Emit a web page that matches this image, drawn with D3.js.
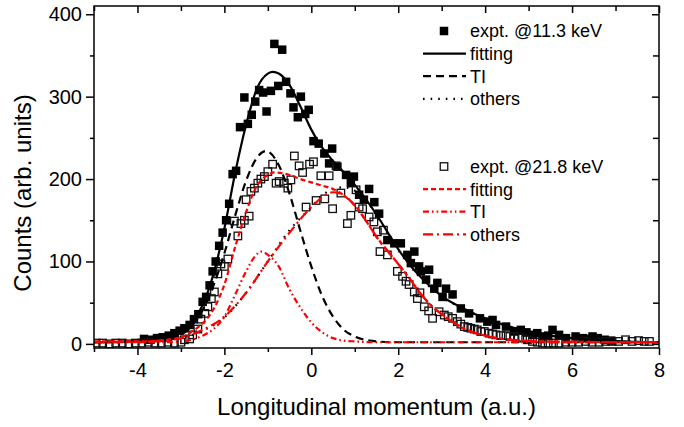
<!DOCTYPE html>
<html>
<head>
<meta charset="utf-8">
<script src="https://cdn.jsdelivr.net/npm/d3@7"></script>
<style>
  body { margin: 0; background: #fff; }
  svg { display: block; font-family: 'Liberation Sans', Arial, sans-serif; }
</style>
</head>
<body>
<div class="container"></div>
<script>
// measured points, 11.3 keV (filled squares)
const expt113 = [
  [-3.85, 6], [-3.7, 5], [-3.55, 7], [-3.42, 8], [-3.28, 10], [-3.15, 13], [-3.03, 16],
  [-2.92, 19], [-2.8, 23], [-2.7, 30], [-2.6, 36], [-2.5, 51], [-2.42, 57], [-2.34, 71],
  [-2.27, 88], [-2.2, 100], [-2.12, 119], [-2.04, 135], [-1.96, 150], [-1.89, 170],
  [-1.81, 206], [-1.73, 210], [-1.64, 263], [-1.54, 299], [-1.46, 267], [-1.37, 278],
  [-1.29, 294], [-1.2, 308], [-1.11, 305], [-1.03, 282], [-0.93, 307], [-0.85, 364],
  [-0.76, 313], [-0.67, 357], [-0.58, 318], [-0.48, 304], [-0.41, 287], [-0.31, 275],
  [-0.24, 300], [-0.14, 279], [-0.06, 284], [0.05, 246], [0.17, 243], [0.3, 231],
  [0.41, 219], [0.48, 237], [0.6, 215], [0.8, 205], [0.91, 195], [0.98, 203], [1.1, 181],
  [1.21, 175], [1.33, 188], [1.45, 172], [1.56, 158], [1.75, 126], [1.91, 122], [2.06, 122],
  [2.21, 108], [2.29, 98], [2.37, 112], [2.48, 94], [2.52, 88], [2.64, 78], [2.71, 90],
  [2.83, 67], [2.9, 74], [3.02, 57], [3.1, 67], [3.25, 60], [3.44, 43], [3.63, 37],
  [3.88, 31], [4.05, 27], [4.17, 29], [4.25, 23], [4.48, 21], [4.67, 15], [4.82, 17],
  [4.95, 14], [5.09, 11], [5.2, 13], [5.32, 9], [5.45, 10], [5.55, 17], [5.7, 11],
  [5.86, 7], [6.08, 9], [6.25, 7], [6.39, 6], [6.47, 9], [6.59, 7], [6.75, 5], [6.9, 4]
];

// measured points, 21.8 keV (open squares)
const expt218 = [
  [-4.95, 1], [-4.8, 1], [-4.65, 0], [-4.5, 1], [-4.35, 1], [-4.2, 0], [-4.05, 1],
  [-3.9, 1], [-3.75, 2], [-3.6, 1], [-3.45, 1], [-3.3, 2], [-3.15, 1], [-3.0, 2],
  [-2.92, 5], [-2.8, 6], [-2.73, 11], [-2.61, 18], [-2.54, 30], [-2.45, 37], [-2.38, 45],
  [-2.3, 55], [-2.23, 63], [-2.15, 85], [-2.08, 97], [-2.0, 94], [-1.92, 103], [-1.77, 149],
  [-1.69, 131], [-1.62, 146], [-1.54, 150], [-1.5, 175], [-1.43, 155], [-1.39, 185],
  [-1.31, 189], [-1.23, 195], [-1.16, 200], [-1.08, 203], [-1.0, 209], [-0.89, 218],
  [-0.81, 195], [-0.74, 197], [-0.62, 195], [-0.54, 189], [-0.47, 199], [-0.39, 228],
  [-0.28, 216], [-0.2, 208], [-0.12, 166], [-0.04, 218], [0.05, 221], [0.11, 174],
  [0.22, 204], [0.31, 176], [0.41, 204], [0.49, 164], [0.57, 216], [0.68, 183],
  [0.83, 146], [0.91, 156], [1.03, 187], [1.1, 166], [1.18, 164], [1.33, 154], [1.44, 148],
  [1.52, 136], [1.58, 112], [1.66, 138], [1.75, 108], [1.98, 88], [2.1, 82], [2.18, 76],
  [2.25, 72], [2.37, 63], [2.44, 55], [2.5, 62], [2.6, 45], [2.7, 40], [2.79, 31],
  [2.94, 39], [3.06, 35], [3.15, 33], [3.25, 31], [3.36, 27], [3.44, 24], [3.52, 21],
  [3.6, 20], [3.67, 19], [3.75, 18], [3.82, 17], [3.9, 15], [3.98, 15], [4.09, 13],
  [4.17, 12], [4.25, 11], [4.36, 10], [4.48, 10], [4.57, 9], [4.67, 9], [4.76, 8],
  [4.86, 7], [4.97, 5], [5.09, 3], [5.2, 2], [5.32, 1], [5.45, 1], [5.57, 1], [5.7, 1],
  [5.85, 2], [6.0, 2], [6.15, 2], [6.31, 3], [6.46, 2], [6.62, 2], [6.77, 3], [6.92, 3],
  [7.07, 3], [7.23, 5], [7.38, 3], [7.53, 4], [7.66, 3], [7.78, 3]
];

// fitted curves
const fit113 = [
  [-5, 2], [-4.5, 2.5], [-4, 3], [-3.5, 6], [-3, 15], [-2.75, 26], [-2.5, 47], [-2.25, 85],
  [-2, 140], [-1.75, 208], [-1.5, 266], [-1.25, 310], [-1.0, 328], [-0.88, 330], [-0.75, 328],
  [-0.5, 314], [-0.25, 288], [0, 260], [0.25, 238], [0.5, 222], [0.75, 208], [1.0, 193],
  [1.25, 176], [1.5, 157], [1.75, 136], [2.0, 115], [2.25, 97], [2.5, 82], [2.75, 69],
  [3.0, 58], [3.5, 43], [4.0, 31], [4.5, 22], [5.0, 15], [5.5, 10], [6.0, 7], [6.5, 5],
  [7.0, 3.5], [8, 2]
];
const ti113 = [
  [-5, 2], [-3.5, 3.5], [-3, 11], [-2.75, 22], [-2.5, 41], [-2.25, 71], [-2, 110],
  [-1.75, 156], [-1.5, 198], [-1.25, 226], [-1.05, 234], [-0.75, 217], [-0.5, 182],
  [-0.25, 137], [0, 94], [0.25, 58], [0.5, 33], [0.75, 17], [1.0, 9], [1.5, 3], [2, 2], [8, 2]
];
const others113 = [
  [-5, 2], [-4, 2.5], [-3.5, 4], [-3, 7], [-2.5, 16], [-2, 32], [-1.5, 62], [-1, 100],
  [-0.5, 138], [0, 166], [0.25, 180], [0.5, 188], [0.75, 190], [1.0, 186], [1.25, 175],
  [1.5, 156], [1.75, 135], [2.0, 114], [2.25, 96], [2.5, 81], [2.75, 68], [3.0, 57],
  [3.5, 43], [4.0, 30], [4.5, 22], [5.0, 15], [5.5, 10], [6.0, 7], [6.5, 5], [7, 3.5], [8, 2]
];
const fit218 = [
  [-5, 3], [-4, 3], [-3.5, 4], [-3, 8], [-2.75, 15], [-2.5, 25], [-2.25, 42], [-2, 72],
  [-1.75, 118], [-1.5, 160], [-1.25, 192], [-1.0, 205], [-0.85, 208], [-0.5, 205],
  [-0.25, 200], [0, 196], [0.25, 192], [0.5, 188], [0.75, 180], [1.0, 168], [1.25, 150],
  [1.5, 130], [1.75, 113], [2.0, 97], [2.25, 80], [2.5, 62], [2.75, 47], [3.0, 36],
  [3.5, 19], [4.0, 10], [4.5, 5.5], [5, 3.5], [6, 2.5], [8, 2]
];
const ti218 = [
  [-5, 2], [-3.5, 2], [-3, 3], [-2.75, 5], [-2.5, 10], [-2.25, 18], [-2, 33], [-1.75, 60],
  [-1.5, 88], [-1.3, 106], [-1.15, 112], [-1.0, 108], [-0.75, 94], [-0.5, 66], [-0.25, 44],
  [0, 26], [0.25, 14], [0.5, 7], [0.75, 4], [1.0, 3], [1.5, 2], [8, 2]
];
const others218 = [
  [-5, 2], [-4, 2.5], [-3.5, 4], [-3, 7], [-2.5, 17], [-2, 33], [-1.5, 62], [-1, 100],
  [-0.5, 135], [0, 166], [0.25, 178], [0.5, 184], [0.75, 180], [1.0, 168], [1.25, 150],
  [1.5, 130], [1.75, 113], [2.0, 97], [2.25, 80], [2.5, 62], [2.75, 47], [3.0, 36],
  [3.5, 19], [4.0, 10], [4.5, 5.5], [5, 3.5], [6, 2.5], [8, 2]
];

const xTicks = [-4, -2, 0, 2, 4, 6, 8];
const xMinor = [-5, -3, -1, 1, 3, 5, 7];
const yTicks = [0, 100, 200, 300, 400];
const yMinor = [50, 150, 250, 350];

const legend113 = ['expt. @11.3 keV', 'fitting', 'TI', 'others'];
const legend218 = ['expt. @21.8 keV', 'fitting', 'TI', 'others'];

const width = 684;
const height = 427;
const plotLeft = 94;
const plotRight = 659;
const plotTop = 6;
const plotBottom = 348;

const xScale = d3.scaleLinear().domain([-5, 8]).range([plotLeft, plotRight]);
const yScale = d3.scaleLinear().domain([-5, 410]).range([plotBottom, plotTop]);

const svg = d3
  .select('.container')
  .append('svg')
  .attr('width', width)
  .attr('height', height);

const plot = svg.append('g');

// clip so curves stay inside the frame
svg
  .append('clipPath')
  .attr('id', 'clip')
  .append('rect')
  .attr('x', plotLeft)
  .attr('y', plotTop)
  .attr('width', plotRight - plotLeft)
  .attr('height', plotBottom - plotTop);

const data = plot.append('g').attr('clip-path', 'url(#clip)');

const fs = 8.5; // filled square size
const os = 7.5; // open square size

data
  .selectAll('.filled')
  .data(expt113)
  .enter()
  .append('rect')
  .attr('class', 'filled')
  .attr('x', (d) => xScale(d[0]) - fs / 2)
  .attr('y', (d) => yScale(d[1]) - fs / 2)
  .attr('width', fs)
  .attr('height', fs)
  .attr('fill', '#000');

data
  .selectAll('.open')
  .data(expt218)
  .enter()
  .append('rect')
  .attr('class', 'open')
  .attr('x', (d) => xScale(d[0]) - os / 2)
  .attr('y', (d) => yScale(d[1]) - os / 2)
  .attr('width', os)
  .attr('height', os)
  .attr('fill', 'none')
  .attr('stroke', '#111')
  .attr('stroke-width', 1.3);

const line = d3
  .line()
  .x((d) => xScale(d[0]))
  .y((d) => yScale(d[1]))
  .curve(d3.curveMonotoneX);

const curves = [
  { pts: others113, color: '#000', dash: '1.6,6' },
  { pts: ti113, color: '#000', dash: '8,5' },
  { pts: fit113, color: '#000', dash: null },
  { pts: others218, color: '#f00', dash: '10,4,2,4' },
  { pts: ti218, color: '#f00', dash: '6,3,1.6,3,1.6,3' },
  { pts: fit218, color: '#f00', dash: '5,3' }
];

curves.forEach((c) =>
  data
    .append('path')
    .attr('d', line(c.pts))
    .attr('fill', 'none')
    .attr('stroke', c.color)
    .attr('stroke-width', 2.2)
    .attr('stroke-dasharray', c.dash)
);

// axes
const fmt = (d) => String(d);

plot
  .append('g')
  .attr('transform', `translate(0,${plotBottom})`)
  .call(d3.axisBottom(xScale).tickValues(xTicks).tickSize(7).tickPadding(8).tickFormat(fmt));
plot
  .append('g')
  .attr('transform', `translate(0,${plotBottom})`)
  .call(d3.axisBottom(xScale).tickValues(xMinor).tickSize(4).tickFormat(''));

plot
  .append('g')
  .attr('transform', `translate(${plotLeft},0)`)
  .call(d3.axisLeft(yScale).tickValues(yTicks).tickSize(8).tickPadding(4).tickFormat(fmt));
plot
  .append('g')
  .attr('transform', `translate(${plotLeft},0)`)
  .call(d3.axisLeft(yScale).tickValues(yMinor).tickSize(4).tickFormat(''));

plot
  .append('g')
  .attr('transform', `translate(0,${plotTop})`)
  .call(d3.axisBottom(xScale).tickValues(xTicks).tickSize(7).tickFormat(''));
plot
  .append('g')
  .attr('transform', `translate(0,${plotTop})`)
  .call(d3.axisBottom(xScale).tickValues(xMinor).tickSize(5).tickFormat(''));

plot
  .append('g')
  .attr('transform', `translate(${plotRight},0)`)
  .call(d3.axisLeft(yScale).tickValues(yTicks).tickSize(7).tickFormat(''));
plot
  .append('g')
  .attr('transform', `translate(${plotRight},0)`)
  .call(d3.axisLeft(yScale).tickValues(yMinor).tickSize(6).tickFormat(''));

plot.selectAll('.domain').remove();
plot.selectAll('.tick line').attr('stroke', '#000').attr('stroke-width', 1.5);
plot
  .selectAll('.tick text')
  .attr('fill', '#000')
  .style('font-size', '20px')
  .style('font-family', "'Liberation Sans', Arial, sans-serif");

plot
  .append('rect')
  .attr('x', plotLeft)
  .attr('y', plotTop)
  .attr('width', plotRight - plotLeft)
  .attr('height', plotBottom - plotTop)
  .attr('fill', 'none')
  .attr('stroke', '#000')
  .attr('stroke-width', 1.5);

svg
  .append('text')
  .attr('x', (218 + 535) / 2)
  .attr('y', 415)
  .attr('text-anchor', 'middle')
  .style('font-size', '24px')
  .text('Longitudinal momentum (a.u.)');

svg
  .append('text')
  .attr('transform', 'rotate(-90)')
  .attr('x', -193)
  .attr('y', 31)
  .attr('text-anchor', 'middle')
  .style('font-size', '24px')
  .text('Counts (arb. units)');

// legend
const legend = svg.append('g').attr('id', 'legend');
const rowGap = 22.6;
const lx0 = 423;
const lx1 = 466;
const tx = 470;

const drawLegend = (labels, y0, color, dashes, filled) => {
  labels.forEach((label, i) => {
    const y = y0 + i * rowGap;
    if (i === 0) {
      const s = filled ? fs : os;
      legend
        .append('rect')
        .attr('x', 444 - s / 2)
        .attr('y', y - s / 2)
        .attr('width', s)
        .attr('height', s)
        .attr('fill', filled ? '#000' : 'none')
        .attr('stroke', filled ? 'none' : '#111')
        .attr('stroke-width', 1.3);
    } else {
      legend
        .append('line')
        .attr('x1', lx0)
        .attr('x2', lx1)
        .attr('y1', y)
        .attr('y2', y)
        .attr('stroke', color)
        .attr('stroke-width', 2.2)
        .attr('stroke-dasharray', dashes[i - 1]);
    }
    legend
      .append('text')
      .attr('x', tx)
      .attr('y', y)
      .attr('dy', '0.36em')
      .style('font-size', '18px')
      .text(label);
  });
};

drawLegend(legend113, 31, '#000', [null, '8,5', '1.6,6'], true);
drawLegend(legend218, 166.5, '#f00', ['5,3', '6,3,1.6,3,1.6,3', '10,4,2,4'], false);
</script>
</body>
</html>
